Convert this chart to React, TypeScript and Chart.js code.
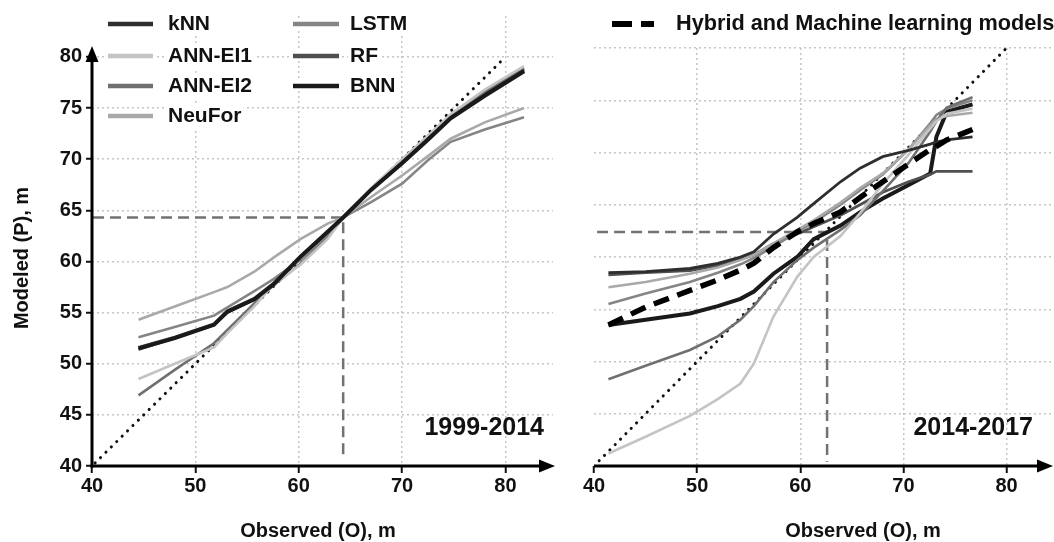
import React, { useEffect, useRef } from 'react';
import { Chart, registerables } from 'chart.js';

Chart.register(...registerables);

const FONT = '"Liberation Sans", Arial, Helvetica, sans-serif';

// ---------- labels ----------
const MODELS = ['kNN', 'ANN-EI1', 'ANN-EI2', 'NeuFor', 'LSTM', 'RF', 'BNN'];
const MODEL_COLORS = ['#2e2e2e', '#c4c4c4', '#707070', '#a9a9a9', '#858585', '#4f4f4f', '#1a1a1a'];
const MODEL_WIDTHS = [2.8, 2.6, 2.6, 2.6, 2.6, 2.8, 4];
const HYBRID_LABEL = 'Hybrid and Machine learning models';
const PERIODS = ['1999-2014', '2014-2017'];
const X_TITLE = 'Observed (O), m';
const Y_TITLE = 'Modeled (P), m';

// ---------- left panel (1999-2014) ----------
const leftObs = [44.5, 48, 51.8, 53.1, 55.7, 57.6, 60.2, 62.8, 64.3, 67, 70, 72.5, 74.7, 78, 81.8];
const leftKnn = [51.4, 52.5, 53.8, 55.0, 56.3, 57.8, 60.5, 62.9, 64.3, 67.0, 69.7, 72.0, 74.1, 76.3, 78.7];
const leftAnnEi1 = [48.5, 50.0, 51.6, 53.0, 55.6, 57.8, 59.7, 62.2, 64.3, 67.2, 70.0, 72.3, 74.4, 76.8, 79.1];
const leftAnnEi2 = [46.9, 49.4, 52.0, 53.3, 55.9, 57.7, 59.8, 62.3, 64.3, 67.1, 69.9, 72.2, 74.3, 76.6, 78.9];
const leftNeuFor = [54.3, 55.6, 57.0, 57.5, 59.0, 60.4, 62.2, 63.7, 64.3, 66.3, 68.4, 70.3, 72.0, 73.6, 75.0];
const leftLstm = [52.6, 53.6, 54.7, 55.5, 57.1, 58.3, 60.2, 62.5, 64.3, 65.8, 67.6, 69.9, 71.7, 72.9, 74.1];
const leftRf = [51.6, 52.6, 53.9, 55.2, 56.4, 57.9, 60.4, 62.8, 64.3, 67.1, 69.8, 72.1, 74.2, 76.4, 78.8];
const leftBnn = [51.5, 52.5, 53.8, 55.1, 56.3, 57.8, 60.5, 62.9, 64.3, 67.0, 69.6, 71.9, 74.0, 76.2, 78.6];
const leftIdentity = [40.3, 80];
const leftCross = [64.3, 64.3];
const leftGuideStart = [40.1, 40.8];

// ---------- right panel (2014-2017) ----------
const rightObs = [41.4, 45, 49.3, 52, 54.2, 55.5, 57.4, 59.7, 61.3, 63.9, 65.8, 68, 70.5, 72.6, 73.2, 74.2, 76.7];
const rightKnn = [58.5, 58.6, 58.9, 59.4, 60.0, 60.5, 62.2, 63.8, 65.1, 67.2, 68.5, 69.6, 70.2, 70.8, 71.0, 71.2, 71.5];
const rightAnnEi1 = [41.2, 42.8, 44.8, 46.4, 47.9, 49.8, 54.3, 58.1, 60.0, 62.0, 64.2, 67.0, 69.8, 72.3, 73.0, 73.7, 74.2];
const rightAnnEi2 = [48.3, 49.6, 51.1, 52.4, 54.0, 55.3, 57.6, 59.7, 60.9, 62.6, 64.0, 66.3, 69.0, 72.0, 73.0, 74.3, 75.3];
const rightNeuFor = [57.1, 57.6, 58.4, 59.0, 59.7, 60.2, 61.3, 62.6, 63.5, 65.2, 66.6, 68.0, 70.3, 72.6, 73.2, 73.5, 73.8];
const rightLstm = [55.5, 56.5, 57.6, 58.5, 59.3, 59.9, 61.0, 62.4, 63.3, 65.0, 66.4, 67.9, 70.3, 72.8, 73.6, 74.2, 75.0];
const rightRf = [58.3, 58.5, 58.7, 59.2, 59.8, 60.2, 61.3, 62.2, 62.9, 64.0, 65.0, 66.2, 67.2, 67.9, 68.2, 68.2, 68.2];
const rightBnn = [53.5, 54.0, 54.6, 55.3, 56.0, 56.7, 58.4, 60.0, 61.7, 63.0, 64.3, 65.6, 66.9, 68.0, 71.5, 73.9, 74.6];
const rightHybrid = [53.5, 55.2, 56.8, 57.8, 58.75, 59.4, 60.9, 62.4, 63.2, 64.3, 65.7, 67.2, 68.9, 70.3, 70.6, 71.2, 72.2];
const rightIdentity = [40.5, 80];
const rightCross = [62.6, 62.4];
const rightGuideStart = [40.3, 40.4];

const GRID_COLOR = '#c6c6c6';

const pts = (xs: number[], ys: number[]) => xs.map((x, i) => ({ x, y: ys[i] }));

function modelDatasets(xs: number[], series: number[][], topIndex: number) {
  return series.map((ys, i) => ({
    label: MODELS[i],
    data: pts(xs, ys),
    borderColor: MODEL_COLORS[i],
    backgroundColor: MODEL_COLORS[i],
    borderWidth: MODEL_WIDTHS[i],
    pointRadius: 0,
    tension: 0,
    fill: false,
    order: i === topIndex ? 1 : 10 + i,
    clip: 6,
  }));
}

function identityDataset(range: number[]) {
  return {
    label: 'identity',
    data: [{ x: range[0], y: range[0] }, { x: range[1], y: range[1] }],
    borderColor: '#111',
    borderWidth: 3,
    borderDash: [0.1, 7.5],
    borderCapStyle: 'round',
    pointRadius: 0,
    order: 50,
    clip: 8,
  };
}

function guideDataset(cross: number[], start: number[]) {
  return {
    label: 'guide',
    data: [
      { x: start[0], y: cross[1] },
      { x: cross[0], y: cross[1] },
      { x: cross[0], y: start[1] },
    ],
    borderColor: '#727272',
    borderWidth: 2.5,
    borderDash: [11, 6],
    pointRadius: 0,
    order: 100,
    clip: 6,
  };
}

const tickFont = { family: FONT, size: 20, weight: 'bold' as const };

function xScale(hideZeroGrid: boolean) {
  return {
    type: 'linear',
    min: 40,
    max: 84.6,
    afterFit: (s: any) => {
      s.height = 76;
    },
    ticks: {
      stepSize: 10,
      includeBounds: false,
      autoSkip: false,
      maxRotation: 0,
      padding: 1,
      color: '#111',
      font: tickFont,
    },
    grid: {
      color: (c: any) => (c.tick && c.tick.value === 40 && hideZeroGrid ? 'rgba(0,0,0,0)' : GRID_COLOR),
      lineWidth: 1.5,
      tickLength: 7,
      tickColor: '#111',
      tickWidth: 2,
      tickBorderDash: [],
    },
    border: { display: false, dash: [2, 3] },
  };
}

function drawArrowLine(ctx: CanvasRenderingContext2D, x0: number, y0: number, x1: number, y1: number) {
  const ang = Math.atan2(y1 - y0, x1 - x0);
  const len = 16;
  const hw = 6.5;
  const bx = x1 - len * Math.cos(ang);
  const by = y1 - len * Math.sin(ang);
  ctx.save();
  ctx.strokeStyle = '#000';
  ctx.fillStyle = '#000';
  ctx.lineWidth = 3;
  ctx.beginPath();
  ctx.moveTo(x0, y0);
  ctx.lineTo(bx + 2 * Math.cos(ang), by + 2 * Math.sin(ang));
  ctx.stroke();
  ctx.beginPath();
  ctx.moveTo(x1, y1);
  ctx.lineTo(bx - hw * Math.sin(ang), by + hw * Math.cos(ang));
  ctx.lineTo(bx + hw * Math.sin(ang), by - hw * Math.cos(ang));
  ctx.closePath();
  ctx.fill();
  ctx.restore();
}

function textWithBg(ctx: CanvasRenderingContext2D, text: string, x: number, y: number) {
  const w = ctx.measureText(text).width;
  ctx.fillStyle = '#fff';
  ctx.fillRect(x - 2, y - 12, w + 4, 24);
  ctx.fillStyle = '#111';
  ctx.fillText(text, x, y);
}

const leftPlugin = {
  id: 'leftDecor',
  afterDraw(chart: any) {
    const ctx: CanvasRenderingContext2D = chart.ctx;
    const xs = chart.scales.x;
    const ys = chart.scales.y;
    const x40 = xs.getPixelForValue(40);
    const y40 = ys.getPixelForValue(40);
    // axes with arrows
    drawArrowLine(ctx, x40, y40 + 1.5, x40, 46);
    drawArrowLine(ctx, x40 - 1.5, y40, chart.chartArea.right + 2, y40);
    // legend
    const rowsY = [24, 56, 86, 116];
    ctx.save();
    ctx.font = `bold 21px ${FONT}`;
    ctx.textBaseline = 'middle';
    ctx.textAlign = 'left';
    chart.data.datasets.forEach((ds: any) => {
      const idx = MODELS.indexOf(ds.label);
      if (idx < 0) return;
      const col = idx < 4 ? 0 : 1;
      const row = idx < 4 ? idx : idx - 4;
      const y = rowsY[row];
      const lx0 = col ? 293 : 108;
      const lx1 = col ? 339 : 153;
      const tx = col ? 350 : 168;
      ctx.fillStyle = '#fff';
      ctx.fillRect(lx0 - 2, y - 5, lx1 - lx0 + 4, 10);
      ctx.strokeStyle = ds.borderColor;
      ctx.lineWidth = 4.5;
      ctx.beginPath();
      ctx.moveTo(lx0, y);
      ctx.lineTo(lx1, y);
      ctx.stroke();
      textWithBg(ctx, ds.label, tx, y);
    });
    // period label
    ctx.font = `bold 25px ${FONT}`;
    ctx.textAlign = 'right';
    ctx.fillStyle = '#111';
    ctx.fillText(PERIODS[0], 544, 428);
    // titles
    ctx.font = `bold 20px ${FONT}`;
    ctx.textAlign = 'center';
    ctx.fillText(X_TITLE, 318, 531);
    ctx.translate(22, 258);
    ctx.rotate(-Math.PI / 2);
    ctx.fillText(Y_TITLE, 0, 0);
    ctx.restore();
  },
};

const rightPlugin = {
  id: 'rightDecor',
  afterDraw(chart: any) {
    const ctx: CanvasRenderingContext2D = chart.ctx;
    const xs = chart.scales.x;
    const ys = chart.scales.y;
    const x40 = xs.getPixelForValue(40);
    const y40 = ys.getPixelForValue(40);
    drawArrowLine(ctx, x40, y40, chart.width - 1, y40);
    ctx.save();
    // legend
    const hybrid = chart.data.datasets.find((d: any) => d.label === HYBRID_LABEL);
    ctx.strokeStyle = hybrid ? hybrid.borderColor : '#000';
    ctx.lineWidth = 6;
    ctx.setLineDash([20, 9]);
    ctx.beginPath();
    ctx.moveTo(52, 24);
    ctx.lineTo(94, 24);
    ctx.stroke();
    ctx.setLineDash([]);
    ctx.font = `bold 21.7px ${FONT}`;
    ctx.textBaseline = 'middle';
    ctx.textAlign = 'left';
    ctx.fillStyle = '#111';
    ctx.fillText(HYBRID_LABEL, 116, 24);
    // period label
    ctx.font = `bold 25px ${FONT}`;
    ctx.textAlign = 'right';
    ctx.fillText(PERIODS[1], 473, 428);
    // title
    ctx.font = `bold 20px ${FONT}`;
    ctx.textAlign = 'center';
    ctx.fillText(X_TITLE, 303, 531);
    ctx.restore();
  },
};

function leftConfig(): any {
  return {
    type: 'line',
    data: {
      datasets: [
        ...modelDatasets(leftObs, [leftKnn, leftAnnEi1, leftAnnEi2, leftNeuFor, leftLstm, leftRf, leftBnn], 6),
        identityDataset(leftIdentity),
        guideDataset(leftCross, leftGuideStart),
      ],
    },
    options: {
      responsive: false,
      maintainAspectRatio: false,
      animation: false,
      events: [],
      layout: { padding: { top: 7, right: 7, left: 0, bottom: 0 } },
      plugins: { legend: { display: false }, tooltip: { enabled: false } },
      scales: {
        x: xScale(true),
        y: {
          type: 'linear',
          min: 40,
          max: 84,
          afterFit: (s: any) => {
            s.width = 92;
          },
          ticks: {
            stepSize: 5,
            includeBounds: false,
            autoSkip: false,
            padding: 4,
            color: '#111',
            font: tickFont,
          },
          grid: {
            color: (c: any) => (c.tick && c.tick.value === 40 ? 'rgba(0,0,0,0)' : GRID_COLOR),
            lineWidth: 1.5,
            tickLength: 6,
            tickColor: '#111',
            tickWidth: 2,
            tickBorderDash: [],
          },
          border: { display: false, dash: [2, 3] },
        },
      },
    },
    plugins: [leftPlugin],
  };
}

function rightConfig(): any {
  return {
    type: 'line',
    data: {
      datasets: [
        {
          label: HYBRID_LABEL,
          data: pts(rightObs, rightHybrid),
          borderColor: '#000',
          borderWidth: 5.5,
          borderDash: [16, 9],
          pointRadius: 0,
          tension: 0,
          order: 0,
          clip: 6,
        },
        ...modelDatasets(rightObs, [rightKnn, rightAnnEi1, rightAnnEi2, rightNeuFor, rightLstm, rightRf, rightBnn], -1),
        identityDataset(rightIdentity),
        guideDataset(rightCross, rightGuideStart),
      ],
    },
    options: {
      responsive: false,
      maintainAspectRatio: false,
      animation: false,
      events: [],
      layout: { padding: { top: 48, right: 0, left: 0, bottom: 0 } },
      plugins: { legend: { display: false }, tooltip: { enabled: false } },
      scales: {
        x: xScale(true),
        y: {
          type: 'linear',
          min: 40,
          max: 80,
          afterFit: (s: any) => {
            s.width = 34;
          },
          ticks: { stepSize: 5, display: false },
          grid: {
            color: (c: any) => (c.tick && c.tick.value === 40 ? 'rgba(0,0,0,0)' : GRID_COLOR),
            lineWidth: 1.5,
            drawTicks: false,
          },
          border: { display: false, dash: [2, 3] },
        },
      },
    },
    plugins: [rightPlugin],
  };
}

function Panel({ left, width, make }: { left: number; width: number; make: () => any }) {
  const ref = useRef<HTMLCanvasElement | null>(null);
  useEffect(() => {
    if (!ref.current) return;
    const chart = new Chart(ref.current, make());
    return () => chart.destroy();
  }, [make]);
  return (
    <canvas
      ref={ref}
      width={width}
      height={542}
      style={{ position: 'absolute', left, top: 0, width, height: 542, display: 'block' }}
    />
  );
}

export default function App() {
  return (
    <div
      style={{
        position: 'absolute',
        left: 0,
        top: 0,
        width: 1054,
        height: 542,
        background: '#fff',
        overflow: 'hidden',
      }}
    >
      <Panel left={0} width={560} make={leftConfig} />
      <Panel left={560} width={494} make={rightConfig} />
    </div>
  );
}
